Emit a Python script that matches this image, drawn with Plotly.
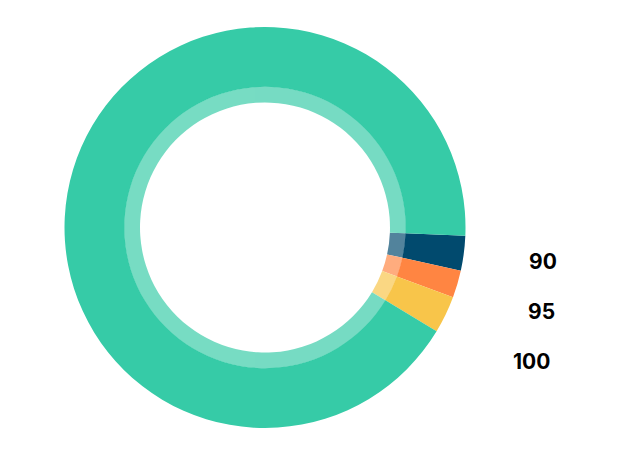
import plotly.graph_objects as go

labels = ["Dark blue", "Orange", "Yellow", "Green"]
values = [2.8, 2.2, 3.0, 92.0]
colors = ["#014a6e", "#ff8542", "#f8c54a", "#36cba7"]
side_labels = ["90", "95", "100"]
side_label_x = [543, 541, 531]
side_label_y = [261, 311, 361]

W, H = 619, 475
OFF = 8  # page body margin offset
TOP, BOT = 27 - OFF, 428 - OFF
CX, CY = 265 - OFF, 227.5 - OFF
R_OUT, R_MID, R_IN = 201, 141, 125
ROT = 92.35

PH = BOT - TOP


def clamp(v):
    return min(1.0, max(0.0, v))


def dom(r):
    cyp = (BOT - CY) / PH
    return dict(x=[clamp((CX - r) / W), clamp((CX + r) / W)],
                y=[clamp(cyp - r / PH), clamp(cyp + r / PH)])


fig = go.Figure()
fig.add_trace(go.Pie(
    labels=labels, values=values, sort=False, direction="clockwise", rotation=ROT,
    hole=R_MID / R_OUT, domain=dom(R_OUT),
    marker=dict(colors=colors, line=dict(width=0)),
    textinfo="none", hoverinfo="label+value", showlegend=False,
))
fig.add_trace(go.Pie(
    labels=labels, values=values, sort=False, direction="clockwise", rotation=ROT,
    hole=R_IN / R_MID, domain=dom(R_MID), opacity=0.68,
    marker=dict(colors=colors, line=dict(width=0)),
    textinfo="none", hoverinfo="label+value", showlegend=False,
))

for t, x, y in zip(side_labels, side_label_x, side_label_y):
    fig.add_annotation(
        text=t, x=(x - OFF) / W, y=(BOT - (y - OFF)) / PH, xref="paper", yref="paper",
        xanchor="center", yanchor="middle", showarrow=False,
        font=dict(family="Inter", size=21, color="#000000", weight=700),
    )

fig.update_layout(
    width=W, height=H,
    margin=dict(l=0, r=0, t=TOP, b=H - BOT),
    paper_bgcolor="white", plot_bgcolor="white",
    showlegend=False,
)
fig.write_html("out.html")
